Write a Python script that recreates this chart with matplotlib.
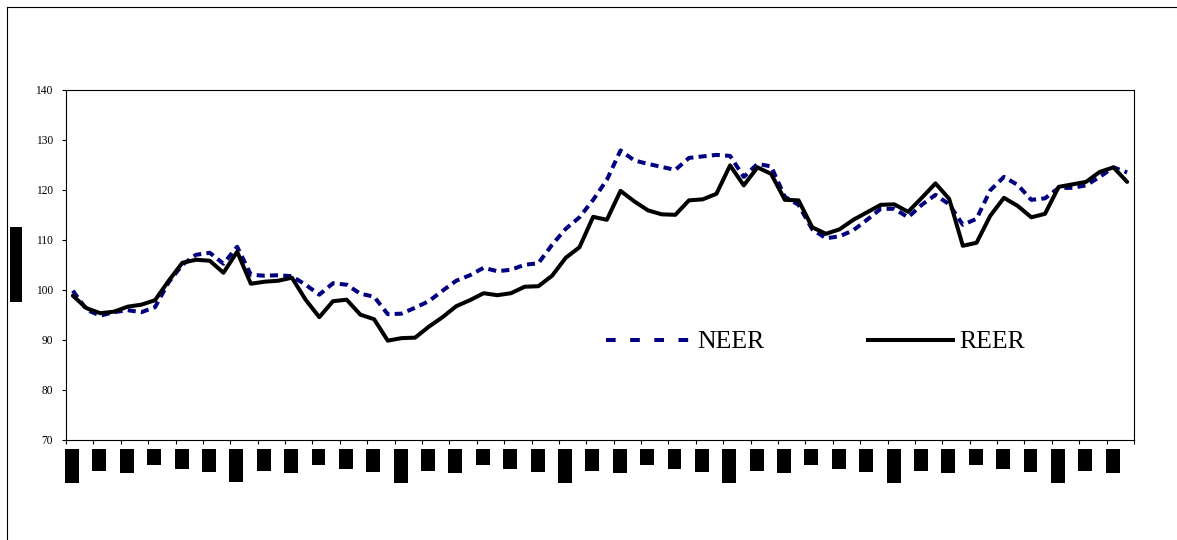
import matplotlib
matplotlib.use("Agg")
import matplotlib.pyplot as plt
from matplotlib.lines import Line2D

# ---- data (monthly index values) ----
reer = [98.8, 96.3, 95.3, 95.6, 96.6, 97.0, 97.9, 101.8, 105.4, 106.0,
        105.8, 103.4, 107.6, 101.2, 101.6, 101.8, 102.4, 98.0, 94.5, 97.7,
        98.0, 95.0, 94.1, 89.8, 90.3, 90.4, 92.6, 94.5, 96.7, 97.9,
        99.3, 98.9, 99.3, 100.6, 100.7, 102.8, 106.4, 108.5, 114.6, 114.0,
        119.8, 117.7, 115.9, 115.1, 115.0, 117.9, 118.1, 119.2, 124.9, 120.9,
        124.5, 123.2, 118.0, 117.9, 112.5, 111.2, 112.1, 114.0, 115.5, 117.0,
        117.1, 115.6, 118.4, 121.3, 118.2, 108.8, 109.4, 114.8, 118.4, 116.8,
        114.5, 115.2, 120.6, 121.1, 121.6, 123.6, 124.5, 121.6]
neer = [99.8, 96.0, 94.8, 95.5, 95.9, 95.5, 96.5, 101.5, 105.0, 107.0,
        107.4, 105.2, 108.6, 103.0, 102.8, 102.9, 102.7, 101.0, 99.0, 101.3,
        101.0, 99.2, 98.6, 95.1, 95.2, 96.4, 97.7, 99.8, 101.8, 102.9,
        104.4, 103.7, 104.0, 105.0, 105.3, 109.0, 112.2, 114.5, 118.0, 122.0,
        127.9, 125.9, 125.2, 124.6, 124.0, 126.4, 126.7, 127.0, 126.8, 122.6,
        125.2, 124.7, 118.6, 117.0, 112.1, 110.3, 110.7, 111.9, 114.0, 116.2,
        116.2, 114.5, 117.0, 119.0, 117.1, 113.0, 114.2, 119.9, 122.6, 121.0,
        118.0, 118.3, 120.4, 120.4, 120.9, 122.6, 124.5, 123.5]

month_names = ["Jan", "Mar", "May", "Jul", "Sep", "Nov"]
years = ["98", "99", "00", "01", "02", "03", "04"]
tick_labels = []
for y in years:
    for m in month_names:
        tick_labels.append(f"{m}-{y}" if m == "Jan" else m)
tick_labels = tick_labels[:39]
y_ticks = [70, 80, 90, 100, 110, 120, 130, 140]
y_label = "Index 1997=100"

W, H = 1177, 540
fig = plt.figure(figsize=(W / 100, H / 100), dpi=100)
ax = fig.add_axes([66 / W, 1 - 439.5 / H, (1134 - 66) / W, (439.5 - 90) / H])

x = list(range(len(reer)))
lw = 2.9
ax.plot(x[:len(neer)], neer, color="#000080", lw=lw, dashes=(2.0, 1.3),
        dash_capstyle="butt", solid_joinstyle="round")
ax.plot(x, reer, color="black", lw=lw, solid_joinstyle="round",
        solid_capstyle="round")

ax.set_xlim(-0.5, 77.5)
ax.set_ylim(70, 140)

# y axis
ax.set_yticks(y_ticks)
ax.set_yticklabels([str(v) for v in y_ticks], fontfamily="Liberation Serif",
                   fontsize=8.3)
ax.tick_params(axis="y", direction="out", length=3, width=0.8, pad=6.5)

# x axis: boundary ticks (major) + labels (minor)
ax.set_xticks([-0.5 + 2 * k for k in range(40)])
ax.set_xticklabels([])
ax.tick_params(axis="x", which="major", direction="out", length=3, width=0.8)
ax.set_xticks([2 * k - 0.06 for k in range(39)], minor=True)
ax.set_xticklabels(tick_labels, minor=True, rotation=90,
                   fontfamily="Liberation Serif", fontsize=8.6, color="black")
ax.tick_params(axis="x", which="minor", length=0, pad=7.6)
for t in ax.get_xticklabels(minor=True):
    t.set_bbox(dict(boxstyle="square,pad=0.08", fc="black", ec="none"))

for s in ax.spines.values():
    s.set_linewidth(0.8)
    s.set_color("black")

# y label as a black bar
fig.text(16 / W, 1 - 264.5 / H, y_label, rotation=90, ha="center", va="center",
         fontfamily="Liberation Serif", fontsize=8.0, color="black",
         bbox=dict(boxstyle="square,pad=0.1", fc="black", ec="none"))

# legend
handles = [Line2D([], [], color="#000080", lw=lw, dashes=(2.4, 3.6),
                  dash_capstyle="butt"),
           Line2D([], [], color="black", lw=lw)]
leg = ax.legend(handles, ["NEER", "REER"], ncol=2, frameon=False,
                loc="center left",
                bbox_to_anchor=((606 - 66) / 1068, (439.5 - 342) / 349.5),
                borderpad=0, borderaxespad=0, handlelength=3.3,
                handletextpad=0.27, columnspacing=4.0,
                prop={"family": "Liberation Serif", "size": 18.5})

# figure frame (left and top lines)
fig.add_artist(Line2D([7 / W, 7 / W], [0, 1 - 7 / H], transform=fig.transFigure,
                      color="black", lw=0.8))
fig.add_artist(Line2D([7 / W, 1], [1 - 7 / H, 1 - 7 / H],
                      transform=fig.transFigure, color="black", lw=0.8))

fig.savefig("out.png", dpi=100)
